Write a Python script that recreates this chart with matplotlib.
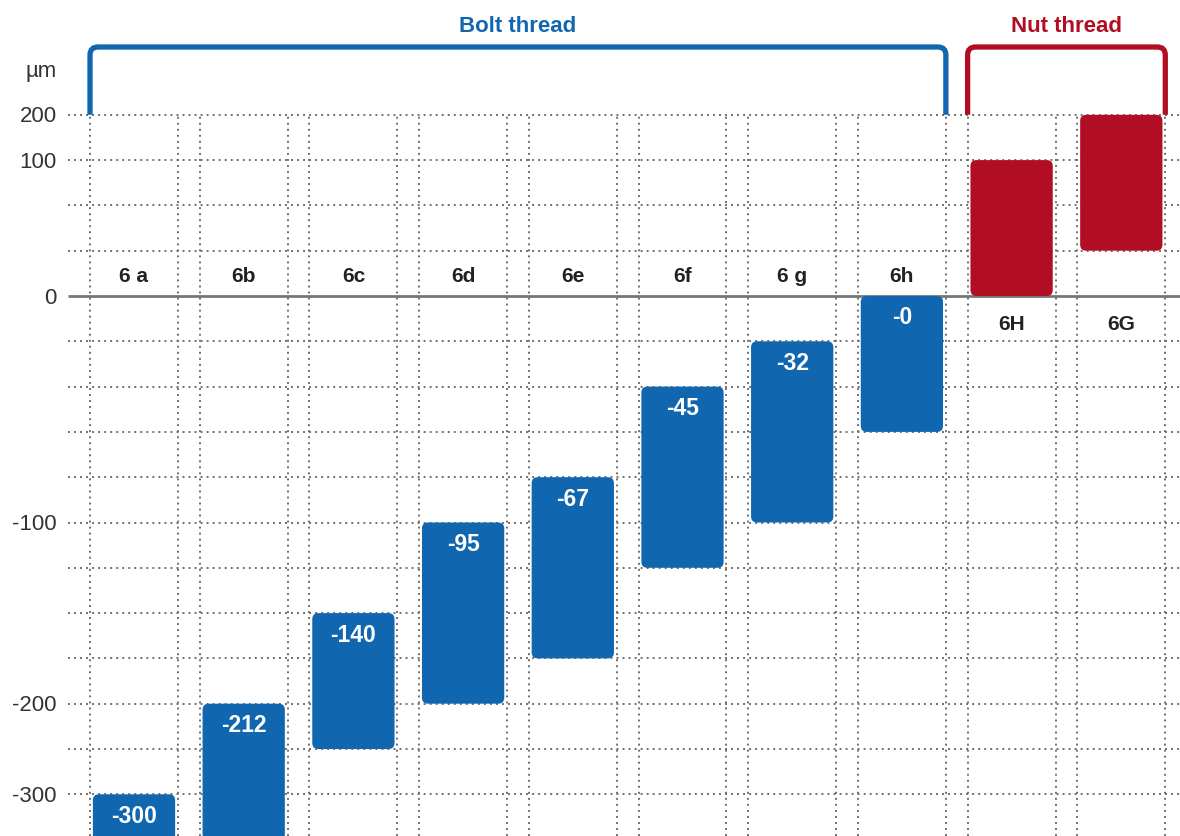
import matplotlib
matplotlib.use("Agg")
import matplotlib.pyplot as plt
from matplotlib.patches import FancyBboxPatch, PathPatch
from matplotlib.path import Path

plt.rcParams["font.family"] = ["Liberation Sans", "DejaVu Sans"]

# Schematic tolerance-zone chart: y is in grid steps (one dotted row = one step)
CATS = ["6 a", "6b", "6c", "6d", "6e", "6f", "6 g", "6h", "6H", "6G"]
BAR_TOP = [-11, -9, -7, -5, -4, -2, -1, 0, 3, 4]
BAR_BOTTOM = [-13, -13, -10, -9, -8, -6, -5, -3, 0, 1]
BAR_LABEL = ["-300", "-212", "-140", "-95", "-67", "-45", "-32", "-0", "", ""]
IS_NUT = [False] * 8 + [True, True]
TICK_POS = [4, 3, 0, -5, -9, -11]
TICK_LABEL = ["200", "100", "0", "-100", "-200", "-300"]
GROUPS = [("Bolt thread", 0, 7), ("Nut thread", 8, 9)]

BLUE = "#1067B0"
RED = "#B10E23"
GRID = "#6f6f6f"
TXT = "#222222"

PX_X = 109.7   # pixels per category
PX_Y = 45.3    # pixels per grid step

fig = plt.figure(figsize=(11.8, 8.36), dpi=100)
ax = fig.add_axes([0, 0, 1, 1])
ax.set_xlim((0 - 134) / PX_X, (1180 - 134) / PX_X)
ax.set_ylim(-(836 - 296) / PX_Y, 296 / PX_Y)
ax.axis("off")

n = len(CATS)
xmin, xmax = ax.get_xlim()
ymin, ymax = ax.get_ylim()
gx0 = (68 - 134) / PX_X
half = 0.401
dy = 2 / PX_Y  # small downward nudge for text

# dotted grid
for r in range(int(ymin), TICK_POS[0] + 1):
    if r == 0:
        continue
    ax.hlines(r, gx0, xmax, colors=GRID, lw=1.4, linestyles=(0, (1, 2.1)), zorder=1)
for i in range(n):
    for e in (-half, half):
        ax.vlines(i + e, ymin, TICK_POS[0], colors=GRID, lw=1.4,
                  linestyles=(0, (1, 2.1)), zorder=1)
ax.hlines(0, gx0, xmax, colors="#777777", lw=2.0, zorder=2)

# y tick labels
lx = (57 - 134) / PX_X
for p, t in zip(TICK_POS, TICK_LABEL):
    ax.text(lx, p - dy, t, ha="right", va="center", fontsize=16, color="#333333")
ax.text(lx, (296 - 69) / PX_Y - dy, "µm", ha="right", va="center", fontsize=16, color="#333333")

# bars with rounded corners
w = 0.75
for i in range(n):
    col = RED if IS_NUT[i] else BLUE
    h = BAR_TOP[i] - BAR_BOTTOM[i]
    ax.add_patch(FancyBboxPatch((i - w / 2, BAR_BOTTOM[i]), w, h,
                                boxstyle="round,pad=0,rounding_size=0.055",
                                mutation_aspect=PX_X / PX_Y, fc=col, ec="none", zorder=3))
    if BAR_LABEL[i]:
        ax.text(i, BAR_TOP[i] - 22 / PX_Y, BAR_LABEL[i], ha="center", va="center",
                fontsize=16.5, fontweight="bold", color="white", zorder=4)
    if IS_NUT[i]:
        ax.text(i, -28 / PX_Y, CATS[i], ha="center", va="center",
                fontsize=15, fontweight="bold", color=TXT, zorder=4)
    else:
        ax.text(i, 19 / PX_Y, CATS[i], ha="center", va="center",
                fontsize=15, fontweight="bold", color=TXT, zorder=4)

# group brackets
top = (296 - 47) / PX_Y
rx, ry = 8 / PX_X, 8 / PX_Y
for name, a, b in GROUPS:
    col = RED if name.startswith("Nut") else BLUE
    x0, x1 = a - half, b + half
    verts = [(x0, TICK_POS[0]), (x0, top - ry), (x0, top), (x0 + rx, top),
             (x1 - rx, top), (x1, top), (x1, top - ry), (x1, TICK_POS[0])]
    codes = [Path.MOVETO, Path.LINETO, Path.CURVE3, Path.CURVE3,
             Path.LINETO, Path.CURVE3, Path.CURVE3, Path.LINETO]
    ax.add_patch(PathPatch(Path(verts, codes), fc="none", ec=col, lw=3.8,
                           capstyle="butt", zorder=3))
    ax.text((x0 + x1) / 2, (296 - 27) / PX_Y, name, ha="center", va="center",
            fontsize=16, fontweight="bold", color=col)

fig.savefig("out.png", dpi=100, facecolor="white")
